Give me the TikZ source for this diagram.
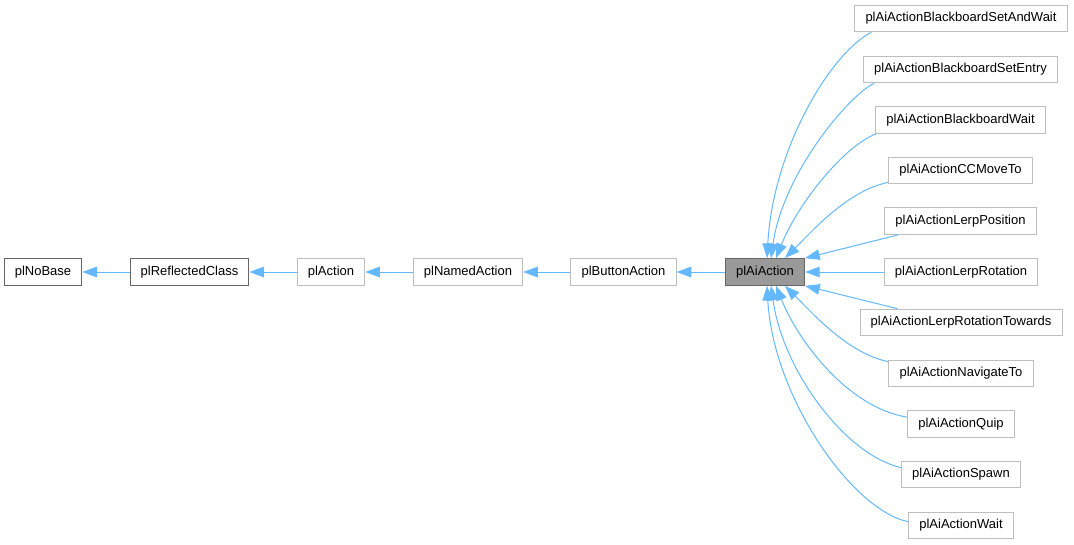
\documentclass[tikz,border=0pt]{standalone}
\usepackage{fontspec}
\setmainfont{Liberation Sans}
\usetikzlibrary{arrows.meta,calc}
\definecolor{edgeblue}{HTML}{63B8FF}
\definecolor{lightframe}{HTML}{BFBFBF}
\definecolor{darkframe}{HTML}{666666}
\definecolor{curfill}{HTML}{999999}
\begin{document}
\begin{tikzpicture}
  [
    x = 0.75pt, y = -0.75pt,
    every node/.style = {font = \fontsize{9.75pt}{11pt}\selectfont, draw, rectangle, minimum height = 20pt, inner xsep = 8pt, line width = 0.75pt},
    cls/.style = {draw = lightframe},
    doc/.style = {draw = darkframe},
    cur/.style = {draw = darkframe, fill = curfill},
    inh/.style = {-{Triangle[length = 11pt, width = 8pt]}, draw = edgeblue, line width = 0.75pt}
  ]
    \useasboundingbox (0,0) rectangle (1074,544);
    \node (nobase) [doc] at (43,272) {plNoBase};
    \node (refl) [doc] at (189.5,272) {plReflectedClass};
    \node (act) [cls] at (331,272) {plAction};
    \node (named) [cls] at (468,272) {plNamedAction};
    \node (button) [cls] at (623.5,272) {plButtonAction};
    \node (ai) [cur] at (765,272) {plAiAction};
    \node (setwait) [cls] at (961,18.5) {plAiActionBlackboardSetAndWait};
    \node (setentry) [cls] at (960.5,69.5) {plAiActionBlackboardSetEntry};
    \node (bbwait) [cls] at (960.5,120) {plAiActionBlackboardWait};
    \node (move) [cls] at (960.5,170.5) {plAiActionCCMoveTo};
    \node (lpos) [cls] at (960.5,221) {plAiActionLerpPosition};
    \node (lrot) [cls] at (961,272) {plAiActionLerpRotation};
    \node (lrott) [cls] at (961,322.5) {plAiActionLerpRotationTowards};
    \node (nav) [cls] at (961,373.5) {plAiActionNavigateTo};
    \node (quip) [cls] at (961,424) {plAiActionQuip};
    \node (spawn) [cls] at (961,474.5) {plAiActionSpawn};
    \node (wait) [cls] at (961,525.5) {plAiActionWait};
    \draw [inh] (refl.west) -- (nobase.east);
    \draw [inh] (act.west) -- (refl.east);
    \draw [inh] (named.west) -- (act.east);
    \draw [inh] (button.west) -- (named.east);
    \draw [inh] (ai.west) -- (button.east);
    \draw [inh] ($(setwait.south west)+(17,0)$) .. controls +(-40,20) and +(6,-110) .. ($(ai.north)+(2,0)$);
    \draw [inh] ($(setentry.south west)+(11,0)$) .. controls +(-25,12) and +(12,-85) .. ($(ai.north)+(6,0)$);
    \draw [inh] ($(bbwait.south west)+(1,0)$) .. controls +(-32,12) and +(22,-55) .. ($(ai.north)+(11,0)$);
    \draw [inh] ($(move.south west)+(0,-2)$) .. controls +(-40,8) and +(28,-28) .. ($(ai.north)+(20,0)$);
    \draw [inh] ($(lpos.south west)+(14,0)$) -- (ai.north east);
    \draw [inh] (lrot.west) -- (ai.east);
    \draw [inh] ($(lrott.north west)+(38,0)$) -- (ai.south east);
    \draw [inh] ($(nav.north west)+(0,2)$) .. controls +(-40,-8) and +(28,28) .. ($(ai.south)+(20,0)$);
    \draw [inh] ($(quip.north west)+(0,7)$) .. controls +(-60,-10) and +(22,55) .. ($(ai.south)+(11,0)$);
    \draw [inh] ($(spawn.north west)+(0,7)$) .. controls +(-56,-13) and +(12,85) .. ($(ai.south)+(6,0)$);
    \draw [inh] ($(wait.north west)+(0,10)$) .. controls +(-57,-12) and +(6,110) .. ($(ai.south)+(2,0)$);
  \end{tikzpicture}
\end{document}
